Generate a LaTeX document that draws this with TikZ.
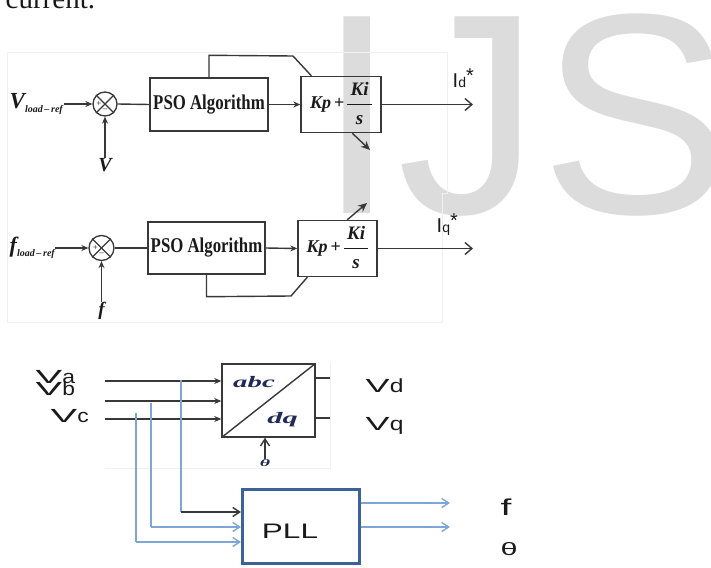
\documentclass[tikz,border=0pt]{standalone}
\usepackage{fontspec}
\usepackage{graphicx}
\setmainfont{Liberation Serif}
\newfontfamily\sansf{Liberation Sans}
\usetikzlibrary{arrows.meta,calc}
\definecolor{ln}{HTML}{383838}
\definecolor{wm}{HTML}{DCDCDC}
\definecolor{bl}{HTML}{7DA5D8}
\definecolor{pllb}{HTML}{3C6397}
\definecolor{navy}{HTML}{1F2A55}
\definecolor{faint}{HTML}{F0F0F0}
\definecolor{txt}{HTML}{1A1A1A}
\newcommand{\fs}[1]{\fontsize{#1}{#1}\selectfont}
\newcommand{\pifrac}{\fs{18}\bfseries\itshape Kp\,{\upshape+}\,{\fs{19}\setlength\arrayrulewidth{1pt}\renewcommand\arraystretch{1.45}\begin{tabular}{@{\,}c@{\,}}Ki\\\hline s\end{tabular}}}
\newcommand{\psotext}{\fs{21}\bfseries\scalebox{0.8}[1]{PSO Algorithm}}
\begin{document}
\begin{tikzpicture}[x=1pt,y=-1pt,line width=1.4pt,draw=ln,text=txt,
  blk/.style={draw=ln,line width=1.4pt,inner sep=0pt,minimum width=#1,minimum height=53pt},
  blk/.default=118pt,
  sumc/.style={circle,draw=ln,line width=1.3pt,minimum size=#1,inner sep=0pt},
  sumc/.default=24pt,
  arr/.style={-{Stealth[length=7pt,width=6pt]}},
  darr/.style={-{Stealth[length=9pt,width=8pt]}},
  oarr/.style={-{Straight Barb[length=7pt,width=12pt]}},
  barr/.style={-{Straight Barb[length=7pt,width=9pt]}},
  lab/.style={inner sep=0pt},
  fr/.style={draw=faint,line width=0.8pt}]
\useasboundingbox (0,0) rectangle (711,567);
\clip (0,0) rectangle (711,567);
% watermark
\node[anchor=base west,inner sep=0pt,text=wm,font=\sansf\fs{286}] (wmk) at (317,213) {IJS};
% text fragment
\node[anchor=base west,inner sep=0pt,font=\fs{29}] (cur) at (5,9) {current.};
% faint frames
\draw[fr] (7,52) -- (447,52) -- (447,193) -- (442,193) -- (442,322) -- (7,322) -- cycle;
\draw[fr] (105,468) -- (330,468) -- (330,363);

% ---------- row 1 ----------
\node[lab,anchor=west] (vref) at (9,104) {\fs{23}\bfseries\itshape V\fs{10}\raisebox{-4pt}{load\,–\,ref}};
\node[sumc] (s1) at (105,104) {};
\draw[line width=1.1pt] (s1.north west) -- (s1.south east) (s1.north east) -- (s1.south west);
\node[lab,font=\fs{9}] (p1) at ($(s1.center)+(-6,0)$) {+};
\node[lab,font=\fs{9}] (m1) at ($(s1.center)+(0,6)$) {–};
\node[lab,font=\fs{20}\bfseries\itshape] (vfb) at (105,165) {V};
\draw[arr] (vref.east) -- (s1.west);
\draw[arr] (vfb.north) -- (s1.south);
\node[blk] (pso1) at (209,104.5) {\psotext};
\draw (s1.east) -- (pso1.west);
\node[blk=80pt] (pi1) at (341,104.5) {\pifrac};
\draw[arr] (pso1.east) -- (pi1.west);
\draw (pso1.north) -- ++(0,-22) -- (293,56) -- ($(pi1.north west)+(11,0)$);
\coordinate (o1) at (473,104.5);
\draw[oarr] (pi1.east) -- (o1);
\node[lab,anchor=base west] (id) at (452,88) {\sansf\fs{20}I{\fs{14}d}\raisebox{5pt}{*}};
\coordinate (d1) at (370,150);
\draw[darr] ($(pi1.south west)+(52,0)$) -- (d1);

% ---------- row 2 ----------
\node[lab,anchor=west] (fref) at (9,248) {\fs{22}\bfseries\itshape f\fs{10}\raisebox{-4pt}{load\,–\,ref}};
\node[sumc=25pt] (s2) at (101.5,248) {};
\draw[line width=1.1pt] (s2.north west) -- (s2.south east) (s2.north east) -- (s2.south west);
\node[lab,font=\fs{9}] (p2) at ($(s2.center)+(-6,0)$) {+};
\node[lab,font=\fs{9}] (m2) at ($(s2.center)+(0,6)$) {–};
\node[lab,font=\fs{19}\bfseries\itshape] (ffb) at (101.5,311) {f};
\draw[arr] (fref.east) -- (s2.west);
\draw[arr] (ffb.north) -- (s2.south);
\node[blk=117pt,minimum height=52pt] (pso2) at (206.5,248) {\psotext};
\draw (s2.east) -- (pso2.west);
\node[blk=79pt,minimum height=52pt] (pi2) at (337.5,248.5) {\pifrac};
\draw[arr] (pso2.east) -- (pi2.west);
\draw (pso2.south) -- ++(0,22) -- (291,296) -- ($(pi2.south west)+(10,0)$);
\coordinate (o2) at (473,248.5);
\draw[oarr] (pi2.east) -- (o2);
\node[lab,anchor=base west] (iq) at (436,232) {\sansf\fs{20}I{\fs{14}q}\raisebox{5pt}{*}};
\coordinate (d2) at (367,203);
\draw[darr] ($(pi2.north west)+(50,0)$) -- (d2);

% ---------- abc/dq ----------
\node[draw=ln,line width=1.4pt,inner sep=0pt,minimum width=93pt,minimum height=73pt] (abc) at (268.5,400.5) {};
\draw (abc.south west) -- (abc.north east);
\node[lab,text=navy] (tabc) at (254,382) {\fs{16}\bfseries\itshape\scalebox{1.8}[1]{abc}};
\node[lab,text=navy] (tdq) at (282.5,420) {\fs{16}\bfseries\itshape\scalebox{1.9}[1]{dq}};
\coordinate (a0) at (105,381);
\coordinate (b0) at (105,401);
\coordinate (c0) at (105,419);
\draw[arr] (a0) -- (a0 -| abc.west);
\draw[arr] (b0) -- (b0 -| abc.west);
\draw[arr] (c0) -- (c0 -| abc.west);
\coordinate (vdy) at (330,378);
\coordinate (vqy) at (330,418);
\draw (abc.east |- vdy) -- (vdy);
\draw (abc.east |- vqy) -- (vqy);
\node[lab,text=navy] (th) at (265,463) {\fs{11}\bfseries\itshape\scalebox{1.8}[0.9]{θ}};
\draw[barr] (th.north) -- (th.north |- abc.south);
\node[lab,anchor=base west] (va) at (35,383) {\sansf\fs{19}\scalebox{2.1}[1]{V}\scalebox{1.2}[1]{a}};
\node[lab,anchor=base west] (vb) at (35,395) {\sansf\fs{19}\scalebox{2.1}[1]{V}\scalebox{1.2}[1]{b}};
\node[lab,anchor=base west] (vc) at (50,422) {\sansf\fs{19}\scalebox{2.1}[1]{V}\scalebox{1.2}[1]{c}};
\node[lab,anchor=base west] (vd) at (365,392) {\sansf\fs{19}\scalebox{1.9}[1]{V}\scalebox{1.3}[1]{d}};
\node[lab,anchor=base west] (vq) at (365,430) {\sansf\fs{19}\scalebox{1.9}[1]{V}\scalebox{1.3}[1]{q}};

% ---------- PLL ----------
\node[draw=pllb,line width=3pt,inner sep=0pt,minimum width=117pt,minimum height=74pt] (pll) at (301,526.5) {};
\node[lab] (tpll) at (290,531) {\sansf\fs{21}\scalebox{1.5}[1]{PLL}};
\coordinate (ta) at (181,380);
\coordinate (tb) at (151,403);
\coordinate (tc) at (136,413);
\coordinate (pa) at (181,512);
\coordinate (pb) at (151,527);
\coordinate (pc) at (136,542);
\draw[bl] (ta) -- (pa);
\draw[bl] (tb) -- (pb);
\draw[bl] (tc) -- (pc);
\draw[ln,barr] (pa) -- (pa -| pll.west);
\draw[bl,barr] (pb) -- (pb -| pll.west);
\draw[bl,barr] (pc) -- (pc -| pll.west);
\coordinate (fo) at (450,503);
\coordinate (tho) at (450,527);
\draw[bl,barr] (pll.east |- fo) -- (fo);
\draw[bl,barr] (pll.east |- tho) -- (tho);
\node[lab,anchor=base west] (flab) at (500,515) {\sansf\fs{23}\scalebox{1.7}[1]{f}};
\node[lab,anchor=base west] (thlab) at (500,555) {\sansf\fs{18}\scalebox{1.7}[1]{θ}};
\end{tikzpicture}
\end{document}
